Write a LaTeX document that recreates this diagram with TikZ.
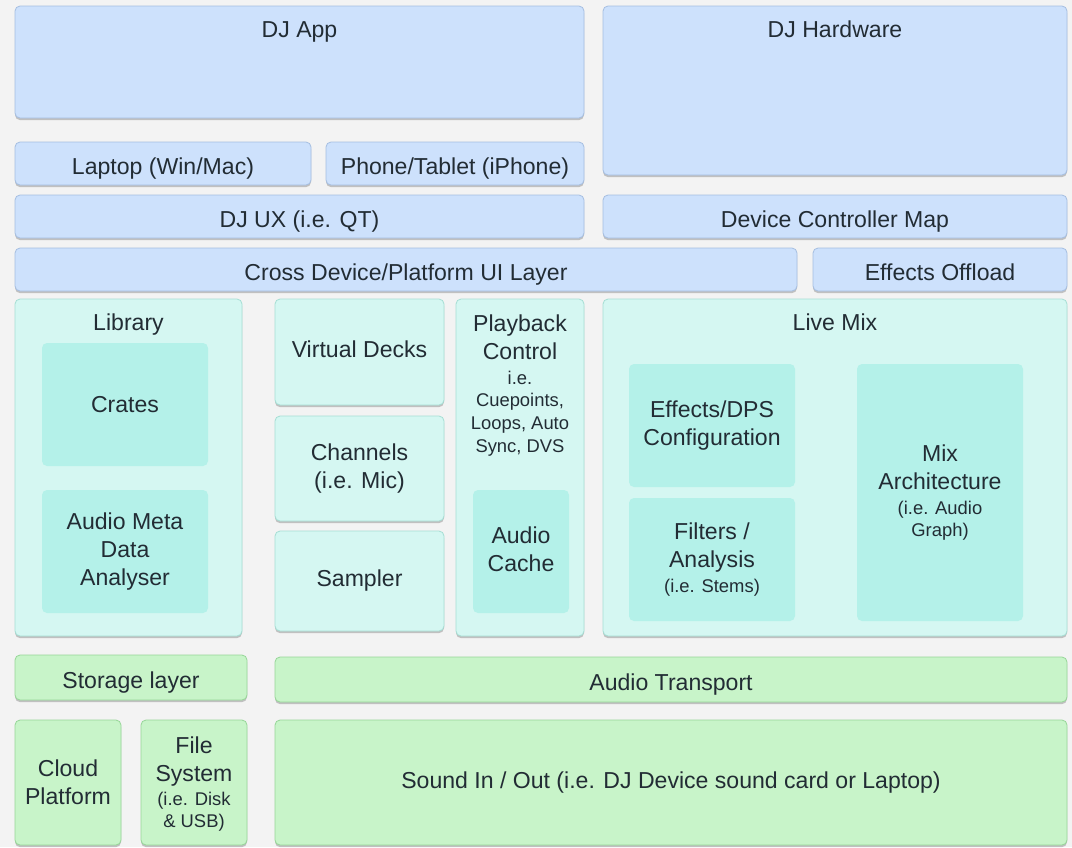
\documentclass[tikz,border=0pt]{standalone}
\usepackage{fontspec}
\setmainfont{Liberation Sans}
\usetikzlibrary{shadows}
\definecolor{bgc}{RGB}{243,243,243}
\definecolor{bluefill}{RGB}{205,225,252}
\definecolor{bluedraw}{RGB}{165,190,225}
\definecolor{cyanfill}{RGB}{213,247,242}
\definecolor{cyandraw}{RGB}{165,222,212}
\definecolor{cyaninner}{RGB}{180,241,233}
\definecolor{greenfill}{RGB}{200,244,201}
\definecolor{greendraw}{RGB}{150,214,152}
\definecolor{txt}{RGB}{34,44,52}
\newcommand\msz{\fontsize{17.3pt}{21pt}\selectfont}
\newcommand\ssz{\fontsize{13.8pt}{17pt}\selectfont}
\newcommand\bx[7]{\node[#6, minimum width={(#4-#2)*0.75pt}, minimum height={(#5-#3)*0.75pt}] (#1) at ({(#2+#4)/2},{(#3+#5)/2}) {#7};}
\tikzset{
  base/.style={rounded corners=3.75pt, line width=0.6pt, text=txt, font=\msz, align=center, inner sep=0pt,
    drop shadow={shadow xshift=0pt, shadow yshift=-1.6pt, opacity=0.3, fill=black!70}},
  bluebox/.style={base, draw=bluedraw, fill=bluefill},
  cyanbox/.style={base, draw=cyandraw, fill=cyanfill},
  greenbox/.style={base, draw=greendraw, fill=greenfill},
  innerbox/.style={rounded corners=3.75pt, fill=cyaninner, text=txt, font=\msz, align=center, inner sep=0pt},
  lowtext/.style={text height=16.3pt, text depth=0pt},
  toptitle/.style={label={[anchor=center, yshift=-18pt, text=txt, font=\msz, inner sep=0pt, text height=12.4pt, text depth=0pt]north:#1}}
}
\begin{document}
\begin{tikzpicture}[x=0.75pt, y=-0.75pt]
\fill[bgc] (0,0) rectangle (1072,847);
\useasboundingbox (0,0) rectangle (1072,847);
% blue layer
\bx{djapp}{15}{6}{584}{118}{bluebox, toptitle={DJ App}}{}
\bx{djhw}{603}{6}{1067}{175}{bluebox, toptitle={DJ Hardware}}{}
\bx{laptop}{15}{142}{311}{185}{bluebox, lowtext}{Laptop (Win/Mac)}
\bx{phone}{326}{142}{584}{185}{bluebox, lowtext}{Phone/Tablet (iPhone)}
\bx{djux}{15}{195}{584}{238}{bluebox, lowtext}{DJ UX (i.e. QT)}
\bx{devmap}{603}{195}{1067}{238}{bluebox, lowtext}{Device Controller Map}
\bx{crossui}{15}{248}{797}{291}{bluebox, lowtext}{Cross Device/Platform UI Layer}
\bx{fxoff}{813}{248}{1067}{291}{bluebox, lowtext}{Effects Offload}
% cyan layer
\bx{library}{15}{299}{242}{636}{cyanbox, toptitle={Library}}{}
\bx{crates}{42}{343}{208}{466}{innerbox}{Crates}
\bx{meta}{42}{490}{208}{613}{innerbox}{Audio Meta\\Data\\Analyser}
\bx{vdecks}{275}{299}{444}{405}{cyanbox, text height=12.7pt, text depth=4.8pt}{Virtual Decks}
\bx{channels}{275}{416}{444}{521}{cyanbox}{Channels\\(i.e. Mic)}
\bx{sampler}{275}{531}{444}{631}{cyanbox}{Sampler}
\bx{playback}{456}{299}{584}{636}{cyanbox, label={[anchor=north, yshift=-12pt, text=txt, align=center, inner sep=0pt, font=\msz]north:{Playback\\Control\\[-2.5pt]{\ssz i.e.}\\[-4pt]{\ssz Cuepoints,}\\[-4pt]{\ssz Loops, Auto}\\[-4pt]{\ssz Sync, DVS}}}}{}
\bx{cache}{473}{490}{569}{613}{innerbox, text depth=4pt}{Audio\\Cache}
\bx{livemix}{603}{299}{1067}{636}{cyanbox, toptitle={Live Mix}}{}
\bx{fxdps}{629}{364}{795}{487}{innerbox}{Effects/DPS\\Configuration}
\bx{filters}{629}{498}{795}{621}{innerbox}{Filters /\\Analysis\\[-2pt]{\ssz (i.e. Stems)}}
\bx{mixarch}{857}{364}{1023}{621}{innerbox}{Mix\\Architecture\\[-2pt]{\ssz (i.e. Audio}\\[-4.5pt]{\ssz Graph)}}
% green layer
\bx{storage}{15}{655}{247}{700}{greenbox, lowtext}{Storage layer}
\bx{transport}{275}{657}{1067}{702}{greenbox, lowtext}{Audio Transport}
\bx{cloud}{15}{720}{121}{845}{greenbox}{Cloud\\Platform}
\bx{filesys}{141}{720}{247}{845}{greenbox, text depth=0pt}{File\\System\\[-3.5pt]{\ssz (i.e. Disk}\\[-4pt]{\ssz \& USB)}}
\bx{sound}{275}{720}{1067}{845}{greenbox}{Sound In / Out (i.e. DJ Device sound card or Laptop)}
\end{tikzpicture}
\end{document}
